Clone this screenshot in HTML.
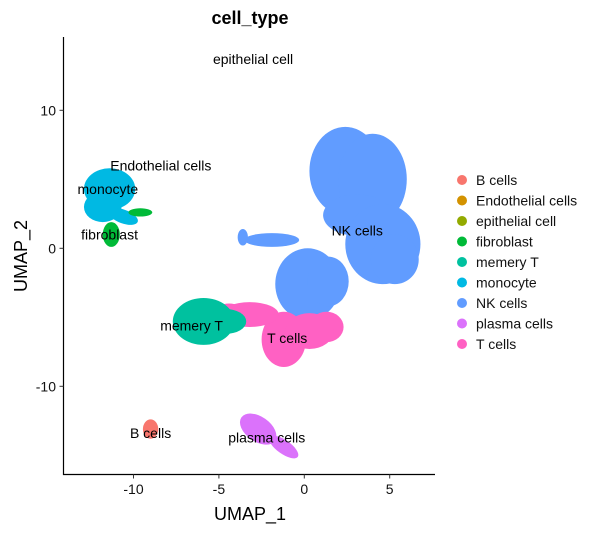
<!DOCTYPE html>
<html><head><meta charset="utf-8"><style>
body{margin:0;background:#fff;font-family:"Liberation Sans",Arial,sans-serif}
text{font-family:"Liberation Sans",Arial,sans-serif}
</style></head><body>
<svg id="chart" width="606" height="531" xmlns="http://www.w3.org/2000/svg"></svg>
<script>
const cellTypes=["B cells","Endothelial cells","epithelial cell","fibroblast","memery T","monocyte","NK cells","plasma cells","T cells"];
const colors=["#F8766D","#D39200","#93AA00","#00BA38","#00C19F","#00B9E3","#619CFF","#DB72FB","#FF61C3"];
// blobs: type, centre, radii (UMAP units), rotation (deg)
const blobType=[6,6,6,6,6,6,6,6,6,8,8,8,8,8,4,4,5,5,5,3,3,0,7,7];
const blobX=[2.4,4.0,3.1,4.6,5.3,0.2,1.4,-1.9,-3.6,-1.2,1.3,0.3,-3.2,-4.4,-5.9,-4.6,-11.4,-11.8,-10.6,-11.3,-9.6,-9.0,-2.7,-1.2];
const blobY=[5.6,5.0,2.4,0.3,-0.8,-2.6,-2.4,0.6,0.8,-6.6,-5.7,-6.0,-4.8,-4.6,-5.3,-5.3,4.3,3.0,2.3,1.0,2.6,-13.1,-13.1,-14.4];
const blobRX=[2.1,2.0,2.0,2.2,1.4,1.9,1.2,1.6,0.3,1.3,1.0,1.4,1.7,0.8,1.8,1.2,1.5,1.1,0.9,0.5,0.7,0.45,1.2,1.0];
const blobRY=[3.2,3.3,1.5,2.9,1.8,2.6,1.8,0.5,0.6,2.0,1.1,1.3,0.9,0.6,1.7,0.9,1.5,1.1,0.5,0.9,0.3,0.7,0.9,0.5];
const blobRot=[0,0,0,0,0,0,0,0,0,0,0,0,0,0,0,0,0,0,20,0,0,0,35,35];
const labelText=["epithelial cell","Endothelial cells","monocyte","fibroblast","NK cells","memery T","T cells","B cells","plasma cells"];
const labelX=[-3.0,-8.4,-11.5,-11.4,3.1,-6.6,-1.0,-9.0,-2.2];
const labelY=[13.7,6.0,4.3,1.0,1.3,-5.6,-6.5,-13.4,-13.7];
const xTicks=[-10,-5,0,5];
const yTicks=[10,0,-10];

const svg=document.getElementById('chart');
const NS="http://www.w3.org/2000/svg";
const X=v=>304.3+v*17.08;
const Y=v=>248.3-v*13.8;
function mk(t,a,p){const e=document.createElementNS(NS,t);for(const k in a)e.setAttribute(k,a[k]);(p||svg).appendChild(e);return e;}

const pts=mk('g',{});


blobType.forEach((t,i)=>{
  const cx=X(blobX[i]),cy=Y(blobY[i]);
  const e=mk('ellipse',{cx:cx,cy:cy,rx:blobRX[i]*17.08,ry:blobRY[i]*13.8,fill:colors[t],transform:`rotate(${blobRot[i]} ${cx} ${cy})`},pts);
  
  
});

const ax=mk('path',{d:`M63.5 37 V474.5 H435`,stroke:'#000','stroke-width':1.2,fill:'none'});


xTicks.forEach(v=>{
  mk('line',{x1:X(v),x2:X(v),y1:474.5,y2:478.5,stroke:'#333'});
  const t=mk('text',{x:X(v),y:494,'text-anchor':'middle','font-size':14,fill:'#111'});
  t.textContent=v;
  
  
});
yTicks.forEach(v=>{
  mk('line',{x1:59.5,x2:63.5,y1:Y(v),y2:Y(v),stroke:'#333'});
  const t=mk('text',{x:56,y:Y(v)+5,'text-anchor':'end','font-size':14,fill:'#111'});
  t.textContent=v;
  
  
});
labelText.forEach((s,i)=>{
  const t=mk('text',{x:X(labelX[i]),y:Y(labelY[i])+5,'text-anchor':'middle','font-size':14,fill:'#000'});
  t.textContent=s;
  
  
});
let t=mk('text',{x:250,y:24,'text-anchor':'middle','font-size':18,'font-weight':'bold'});t.textContent='cell_type';


t=mk('text',{x:250,y:520,'text-anchor':'middle','font-size':18});t.textContent='UMAP_1';


t=mk('text',{x:0,y:0,'text-anchor':'middle','font-size':18,transform:'translate(27,256) rotate(-90)'});t.textContent='UMAP_2';



cellTypes.forEach((s,i)=>{
  const g=mk('g',{});
  
  
  const y=180+i*20.5;
  mk('circle',{cx:462,cy:y,r:5,fill:colors[i]},g);
  const tt=mk('text',{x:476,y:y+5,'font-size':14,fill:'#111'},g);tt.textContent=s;
});
</script>
</body></html>
